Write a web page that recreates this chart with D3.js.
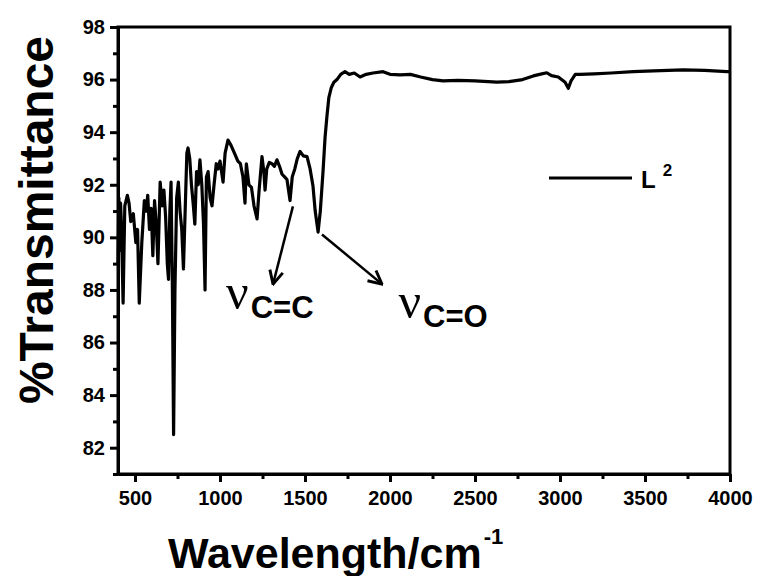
<!DOCTYPE html>
<html>
<head>
<meta charset="utf-8">
<script src="https://cdn.jsdelivr.net/npm/d3@7"></script>
<style>
  body { margin: 0; background: #fff; }
  svg { display: block; }
  text { font-family: "Liberation Sans", Arial, sans-serif; }
</style>
</head>
<body>
<div id="chart"></div>
<script>
// IR spectrum of L2 (wavenumber, %T)
const wavenumbers = [400, 405, 410, 415, 420, 430, 440, 455, 465, 475, 490, 505, 515, 525, 540, 555, 565, 575, 585, 595, 605, 615,
  625, 635, 648, 660, 670, 680, 690, 697, 705, 712, 720, 727, 735, 745, 755, 765, 775, 785, 795, 805,
  812, 822, 832, 842, 852, 862, 872, 882, 893, 903, 912, 920, 930, 942, 953, 965, 978, 988, 1000, 1018,
  1030, 1047, 1065, 1085, 1105, 1120, 1135, 1147, 1155, 1170, 1185, 1200, 1218, 1230, 1247, 1258, 1265, 1275, 1290, 1305,
  1320, 1335, 1350, 1365, 1380, 1394, 1403, 1412, 1425, 1440, 1455, 1471, 1490, 1512, 1530, 1547, 1560, 1577, 1590, 1606,
  1618, 1629, 1640, 1655, 1670, 1688, 1710, 1735, 1760, 1790, 1824, 1860, 1900, 1959, 2000, 2060, 2120, 2180, 2250, 2312,
  2400, 2500, 2629, 2700, 2780, 2843, 2880, 2922, 2950, 2990, 3030, 3049, 3065, 3090, 3118, 3200, 3300, 3431, 3550, 3724,
  3850, 3982, 4000];
const transmittance = [89.0, 91.5, 89.5, 91.3, 90.5, 87.5, 91.2, 91.6, 91.3, 90.6, 90.9, 89.8, 90.3, 87.5, 89.8, 91.4, 91.0, 91.6, 90.3, 91.1, 89.3, 91.4,
  90.5, 89.0, 92.1, 91.2, 91.8, 90.8, 89.0, 88.4, 91.0, 92.1, 88.0, 82.5, 88.0, 91.5, 92.1, 91.0, 90.3, 88.8, 91.0, 93.2,
  93.4, 93.0, 92.0, 91.3, 90.5, 92.5, 92.0, 92.95, 92.0, 90.5, 88.0, 92.3, 92.5, 91.5, 91.2, 92.0, 92.8, 92.6, 92.9, 92.1,
  93.2, 93.7, 93.5, 93.2, 92.9, 92.8, 92.3, 91.3, 92.8, 92.0, 91.9, 91.2, 90.7, 91.8, 93.07, 92.5, 91.8, 92.6, 92.85, 92.8,
  92.7, 92.95, 92.7, 92.4, 92.3, 92.2, 91.8, 91.4, 92.3, 92.6, 93.0, 93.27, 93.1, 93.07, 92.6, 91.95, 91.0, 90.2, 91.0, 92.5,
  93.8, 94.6, 95.3, 95.7, 95.9, 96.0, 96.2, 96.3, 96.2, 96.25, 96.1, 96.2, 96.25, 96.3, 96.2, 96.18, 96.2, 96.1, 96.0, 95.95,
  95.97, 95.95, 95.9, 95.92, 96.0, 96.14, 96.2, 96.26, 96.15, 96.1, 95.9, 95.67, 95.95, 96.2, 96.2, 96.22, 96.25, 96.3, 96.33, 96.37,
  96.35, 96.3, 96.3];

const xTicks = [500, 1000, 1500, 2000, 2500, 3000, 3500, 4000];
const xMinor = [750, 1250, 1750, 2250, 2750, 3250, 3750];
const yTicks = [82, 84, 86, 88, 90, 92, 94, 96, 98];
const yMinor = [81, 83, 85, 87, 89, 91, 93, 95, 97];

// band assignments: arrow tail (w, %T), arrow head (w, %T), label anchor
const bands = [
  { sub: "C=C", from: [1429, 91.18], to: [1312, 88.22], at: [1036, 87.27] },
  { sub: "C=O", from: [1600, 90.11], to: [1953, 88.22], at: [2050, 86.95] }
];

const width = 760, height = 576;
const margin = { top: 27, right: 30, bottom: 102, left: 118 };

const svg = d3.select("#chart").append("svg")
  .attr("width", width)
  .attr("height", height);

const x = d3.scaleLinear().domain([400, 4000]).range([margin.left, width - margin.right]);
const y = d3.scaleLinear().domain([81, 98]).range([height - margin.bottom, margin.top]);

const data = wavenumbers.map((w, i) => ({ w: w, t: transmittance[i] }));

// spectrum
svg.append("path")
  .datum(data)
  .attr("fill", "none")
  .attr("stroke", "#000")
  .attr("stroke-width", 3.2)
  .attr("stroke-linejoin", "round")
  .attr("d", d3.line().x(d => x(d.w)).y(d => y(d.t)));

// axes (minor ticks in their own groups)
const bottomY = height - margin.bottom;
svg.append("g").attr("transform", "translate(0," + bottomY + ")")
  .call(d3.axisBottom(x).tickValues(xMinor).tickSize(5).tickSizeOuter(0).tickFormat(""));
const gx = svg.append("g").attr("transform", "translate(0," + bottomY + ")")
  .call(d3.axisBottom(x).tickValues(xTicks).tickSize(8).tickSizeOuter(0).tickPadding(9).tickFormat(d3.format("d")));
gx.selectAll("text").attr("font-size", 20).attr("font-weight", "bold").attr("fill", "#000")
  .attr("font-family", "Liberation Sans, Arial, sans-serif");

svg.append("g").attr("transform", "translate(" + margin.left + ",0)")
  .call(d3.axisLeft(y).tickValues(yMinor).tickSize(5).tickSizeOuter(0).tickFormat(""));
const gy = svg.append("g").attr("transform", "translate(" + margin.left + ",0)")
  .call(d3.axisLeft(y).tickValues(yTicks).tickSize(8).tickSizeOuter(0).tickPadding(5).tickFormat(d3.format("d")));
gy.selectAll("text").attr("font-size", 20).attr("font-weight", "bold").attr("fill", "#000")
  .attr("font-family", "Liberation Sans, Arial, sans-serif");

svg.selectAll(".tick line").attr("stroke-width", 3);
svg.selectAll(".domain").attr("stroke-width", 3);

// frame
svg.append("rect")
  .attr("x", margin.left).attr("y", margin.top)
  .attr("width", width - margin.right - margin.left)
  .attr("height", height - margin.bottom - margin.top)
  .attr("fill", "none").attr("stroke", "#000").attr("stroke-width", 3);

// axis titles
const xt = svg.append("text")
  .attr("x", x(1680)).attr("y", 568)
  .attr("text-anchor", "middle")
  .attr("font-size", 43).attr("font-weight", "bold");
xt.append("tspan").text("Wavelength/cm");
xt.append("tspan").attr("font-size", 22).attr("dy", -24).attr("dx", 2).text("-1");

svg.append("text")
  .attr("transform", "translate(53," + 220 + ") rotate(-90)")
  .attr("text-anchor", "middle")
  .attr("font-size", 48).attr("font-weight", "bold")
  .text("%Transmittance");

// band annotations
const defs = svg.append("defs");
defs.append("marker")
  .attr("id", "arrow")
  .attr("viewBox", "0 0 12 12")
  .attr("refX", 11).attr("refY", 6)
  .attr("markerWidth", 16).attr("markerHeight", 16)
  .attr("markerUnits", "userSpaceOnUse")
  .attr("orient", "auto")
  .append("path")
  .attr("d", "M1,1 L11,6 L1,11")
  .attr("fill", "none").attr("stroke", "#000").attr("stroke-width", 2.2);

bands.forEach(b => {
  svg.append("line")
    .attr("x1", x(b.from[0])).attr("y1", y(b.from[1]))
    .attr("x2", x(b.to[0])).attr("y2", y(b.to[1]))
    .attr("stroke", "#000").attr("stroke-width", 2.5)
    .attr("marker-end", "url(#arrow)");

  const t = svg.append("text").attr("x", x(b.at[0])).attr("y", y(b.at[1]));
  t.append("tspan").attr("font-family", "Liberation Serif, Times New Roman, serif")
    .attr("font-size", 50).text("\u03BD");
  t.append("tspan").attr("font-size", 31).attr("font-weight", "bold")
    .attr("dy", 9).attr("dx", 2).text(b.sub);
});

// legend
const lg = svg.append("g").attr("transform", "translate(549,178)");
lg.append("line").attr("x1", 0).attr("x2", 83).attr("y1", 0).attr("y2", 0)
  .attr("stroke", "#000").attr("stroke-width", 3);
const lt = lg.append("text").attr("x", 92).attr("y", 10)
  .attr("font-size", 24).attr("font-weight", "bold");
lt.append("tspan").text("L");
lt.append("tspan").attr("font-size", 17).attr("dy", -12).attr("dx", 7).text("2");
</script>
</body>
</html>
